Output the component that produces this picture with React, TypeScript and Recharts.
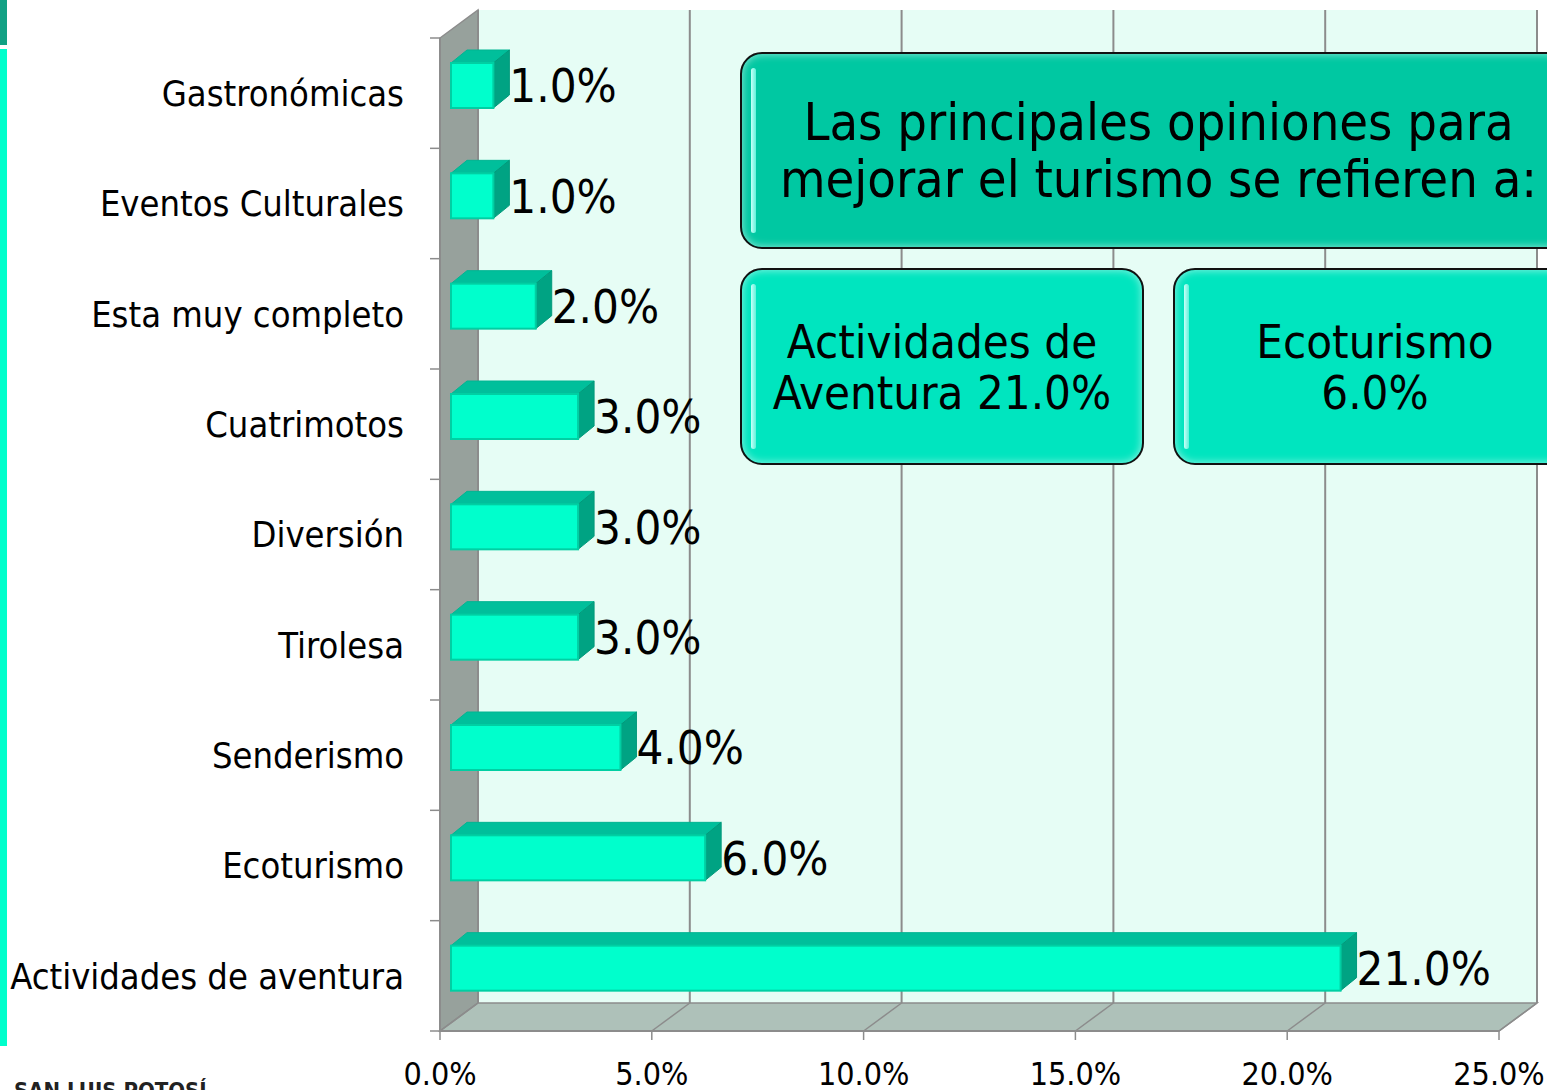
import React from "react";
import { BarChart, Bar, XAxis, YAxis, CartesianGrid, ReferenceArea, LabelList } from "recharts";

// data
const categories = [
  "Gastronómicas",
  "Eventos Culturales",
  "Esta muy completo",
  "Cuatrimotos",
  "Diversión",
  "Tirolesa",
  "Senderismo",
  "Ecoturismo",
  "Actividades de aventura",
];
const percentages = [1, 1, 2, 3, 3, 3, 4, 6, 21];
const xTicks = [0, 5, 10, 15, 20, 25];
const titleLines = ["Las principales opiniones para", "mejorar el turismo se refieren a:"];
const calloutA = ["Actividades de", "Aventura 21.0%"];
const calloutB = ["Ecoturismo", "6.0%"];
const footer = "SAN LUIS POTOSÍ";

const data = categories.map((name, i) => ({ name, value: percentages[i] }));

const W = 1547;
const H = 1090;
const MARGIN = { top: 38, right: 48, bottom: 0, left: 0 };
const YAXIS_W = 440;
const XAXIS_H = 59;
const PLOT_H = H - MARGIN.top - MARGIN.bottom - XAXIS_H;
const FONT = "Tahoma, 'DejaVu Sans Condensed', 'DejaVu Sans', sans-serif";

// 3d depth of the walls and of the bars
const DX = 38;
const DY = -28;
const BF = { dx: 11, dy: -8 };
const BB = { dx: 27, dy: -21 };
const GRID = "#8C8C8C";

const fmt = (v: number) => `${v.toFixed(1)}%`;

function Walls(props: any) {
  const { x, y, width, height } = props;
  const b = y + height;
  return (
    <g>
      <rect x={x + DX} y={y + DY} width={width} height={height} fill="#E6FDF5" />
      <polygon
        points={`${x},${y} ${x + DX},${y + DY} ${x + DX},${b + DY} ${x},${b}`}
        fill="#97A19C"
        stroke={GRID}
        strokeWidth={1.5}
      />
      <polygon
        points={`${x},${b} ${x + DX},${b + DY} ${x + width + DX},${b + DY} ${x + width},${b}`}
        fill="#AEC1B9"
        stroke={GRID}
        strokeWidth={1.5}
      />
    </g>
  );
}

function GridLine(props: any) {
  const { x1, y1, x2, y2 } = props;
  return (
    <g key={props.key}>
      <line x1={x1 + DX} y1={y1 + DY} x2={x2 + DX} y2={y2 + DY} stroke={GRID} strokeWidth={2} />
      <line x1={x2 + DX} y1={y2 + DY} x2={x2} y2={y2} stroke={GRID} strokeWidth={1.5} />
    </g>
  );
}

function Bar3D(props: any) {
  const { x, y, width, height } = props;
  if (!width) return null;
  const fx = x + BF.dx;
  const fy = y + BF.dy;
  const dx = BB.dx - BF.dx;
  const dy = BB.dy - BF.dy;
  return (
    <g>
      <polygon
        points={`${fx},${fy} ${fx + width},${fy} ${fx + width + dx},${fy + dy} ${fx + dx},${fy + dy}`}
        fill="#00BF9B"
        stroke="#00B592"
        strokeWidth={1}
      />
      <polygon
        points={`${fx + width},${fy} ${fx + width + dx},${fy + dy} ${fx + width + dx},${fy + dy + height} ${fx + width},${fy + height}`}
        fill="#00A383"
        stroke="#009A7B"
        strokeWidth={1}
      />
      <rect x={fx} y={fy} width={width} height={height} fill="#00FFCC" stroke="#00CFA3" strokeWidth={2} />
    </g>
  );
}

function ValueLabel(props: any) {
  const vb = props.viewBox || {};
  const x = props.x ?? vb.x;
  const y = props.y ?? vb.y;
  const width = props.width ?? vb.width;
  const height = props.height ?? vb.height;
  return (
    <text
      x={x + width + BB.dx}
      y={y + BF.dy + height / 2}
      dy="0.36em"
      fontSize={47}
      fontFamily={FONT}
      fill="#000"
    >
      {fmt(Number(props.value))}
    </text>
  );
}

function CategoryTick(props: any) {
  const { x, y, payload, index } = props;
  const band = PLOT_H / categories.length;
  const top = y - band / 2;
  return (
    <g>
      <line x1={x - 10} y1={top} x2={x} y2={top} stroke={GRID} strokeWidth={1.5} />
      {index === categories.length - 1 && (
        <line x1={x - 10} y1={y + band / 2} x2={x} y2={y + band / 2} stroke={GRID} strokeWidth={1.5} />
      )}
      <text x={x - 36} y={y} dy="0.36em" textAnchor="end" fontSize={36} fontFamily={FONT} fill="#000">
        {payload.value}
      </text>
    </g>
  );
}

const boxBase: React.CSSProperties = {
  position: "absolute",
  boxSizing: "border-box",
  border: "2px solid #111",
  borderRadius: 22,
  display: "flex",
  flexDirection: "column",
  alignItems: "center",
  justifyContent: "center",
  textAlign: "center",
  fontFamily: FONT,
  color: "#000",
  boxShadow: "inset 0 0 8px rgba(255,255,255,0.6)",
  whiteSpace: "nowrap",
};

function Shine() {
  return (
    <div
      style={{
        position: "absolute",
        left: 9,
        top: 14,
        bottom: 14,
        width: 5,
        borderRadius: 3,
        background: "linear-gradient(to right, #c8fff8, #5ff2da)",
      }}
    />
  );
}

function Callout({ lines, style }: { lines: string[]; style: React.CSSProperties }) {
  return (
    <div style={{ ...boxBase, ...style }}>
      <Shine />
      {lines.map((l) => (
        <div key={l}>{l}</div>
      ))}
    </div>
  );
}

export default function App() {
  return (
    <div
      style={{
        position: "absolute",
        left: 0,
        top: 0,
        width: W,
        height: H,
        overflow: "hidden",
        background: "#fff",
      }}
    >
      <BarChart width={W} height={H} data={data} layout="vertical" margin={MARGIN} barSize={45}>
        <ReferenceArea x1={0} x2={25} shape={<Walls />} zIndex={-150} ifOverflow="visible" />
        <CartesianGrid horizontal={false} vertical={GridLine} />
        <XAxis
          type="number"
          domain={[0, 25]}
          ticks={xTicks}
          tickFormatter={fmt}
          height={XAXIS_H}
          tickSize={9}
          tickMargin={22}
          axisLine={{ stroke: GRID, strokeWidth: 2 }}
          tickLine={{ stroke: GRID, strokeWidth: 1.5 }}
          tick={{ fill: "#000", fontSize: 32, fontFamily: FONT }}
        />
        <YAxis
          type="category"
          dataKey="name"
          width={YAXIS_W}
          tickSize={0}
          tickMargin={0}
          tickLine={false}
          axisLine={{ stroke: GRID, strokeWidth: 2 }}
          tick={<CategoryTick />}
          interval={0}
        />
        <Bar dataKey="value" shape={<Bar3D />} isAnimationActive={false}>
          <LabelList dataKey="value" content={<ValueLabel />} />
        </Bar>
      </BarChart>

      {/* left page strip */}
      <div style={{ position: "absolute", left: 0, top: 0, width: 7, height: 45, background: "#12A184" }} />
      <div style={{ position: "absolute", left: 0, top: 49, width: 7, height: 997, background: "#00FFCC" }} />
      <div
        style={{
          position: "absolute",
          left: 14,
          top: 1078,
          fontFamily: FONT,
          fontSize: 22,
          fontWeight: "bold",
          color: "#222",
          whiteSpace: "nowrap",
        }}
      >
        {footer}
      </div>

      <Callout
        lines={titleLines}
        style={{ left: 740, top: 52, width: 837, height: 197, background: "#00C8A2", fontSize: 52, lineHeight: "57px" }}
      />
      <Callout
        lines={calloutA}
        style={{ left: 740, top: 268, width: 404, height: 197, background: "#00E5BF", fontSize: 47, lineHeight: "51px" }}
      />
      <Callout
        lines={calloutB}
        style={{ left: 1173, top: 268, width: 404, height: 197, background: "#00E5BF", fontSize: 47, lineHeight: "51px" }}
      />
    </div>
  );
}
